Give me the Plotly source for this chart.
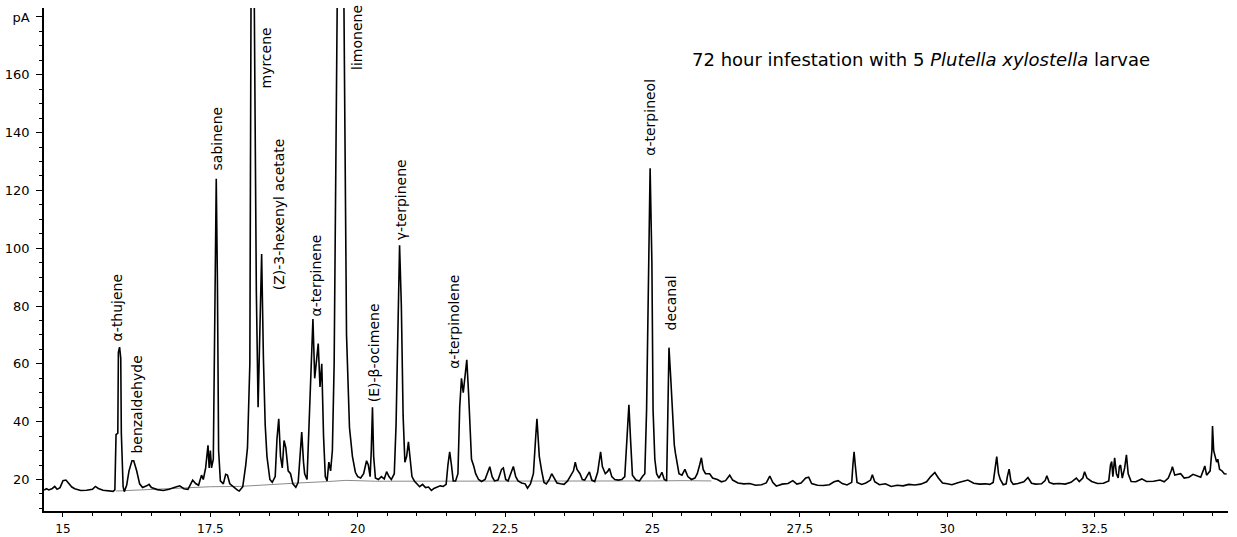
import plotly.graph_objects as go

# Retention time (min) and detector signal (pA) of the FID trace
time_min = [
    14.68, 14.72, 14.76, 14.82, 14.86, 14.90, 14.95, 15.00, 15.05, 15.10, 15.15, 15.20, 15.30, 15.40,
    15.50, 15.55, 15.60, 15.68, 15.76, 15.85, 15.88,
    15.90, 15.93, 15.94, 15.96, 15.98, 15.99, 16.02, 16.04, 16.08,
    16.12, 16.17, 16.20, 16.25, 16.30, 16.35, 16.42, 16.46, 16.50, 16.60, 16.70, 16.80, 16.90, 16.98,
    17.05, 17.12, 17.20, 17.25, 17.30, 17.35, 17.38, 17.42, 17.46, 17.48, 17.50, 17.52,
    17.55, 17.58, 17.60, 17.62, 17.64, 17.67, 17.72, 17.76, 17.79, 17.83, 17.90, 17.96, 17.99, 18.05,
    18.10, 18.13,
    18.17, 18.20, 18.24, 18.28, 18.31,
    18.34, 18.37, 18.40, 18.43, 18.46, 18.51, 18.55, 18.60, 18.63, 18.66, 18.69, 18.72, 18.75, 18.78,
    18.82, 18.86, 18.90, 18.95, 18.99, 19.02, 19.05, 19.08, 19.10, 19.14,
    19.18, 19.21, 19.24, 19.27, 19.30, 19.33, 19.36, 19.39, 19.42, 19.45, 19.48, 19.51, 19.54, 19.57,
    19.60, 19.66, 19.70, 19.76, 19.81, 19.86, 19.91, 19.96, 20.00, 20.05, 20.10, 20.15, 20.18, 20.21,
    20.23, 20.25, 20.27, 20.30, 20.35, 20.40, 20.45, 20.49, 20.53, 20.57, 20.62,
    20.65, 20.68, 20.71, 20.74, 20.77, 20.80, 20.83, 20.86, 20.89, 20.92, 20.96, 21.00, 21.05, 21.10,
    21.15, 21.20, 21.25, 21.30, 21.35, 21.40, 21.45, 21.50, 21.53, 21.56, 21.59, 21.62, 21.66, 21.70,
    21.73, 21.76, 21.79, 21.82, 21.85, 21.88, 21.90, 21.93, 21.97, 22.00, 22.05, 22.10, 22.16, 22.21,
    22.24, 22.28, 22.32, 22.38, 22.44, 22.47, 22.51, 22.55, 22.60, 22.64, 22.68, 22.72, 22.78, 22.84,
    22.88, 22.93, 22.98,
    23.00, 23.02, 23.04, 23.06, 23.08, 23.12, 23.16, 23.20, 23.25, 23.29, 23.33, 23.38, 23.44, 23.50,
    23.56, 23.62, 23.66, 23.69, 23.72, 23.77, 23.81, 23.85, 23.90, 23.93, 23.97, 24.02, 24.07, 24.10,
    24.12, 24.15, 24.20, 24.24, 24.27, 24.31, 24.36, 24.42, 24.48, 24.53,
    24.56, 24.60, 24.63, 24.66, 24.72, 24.78, 24.83, 24.87,
    24.90, 24.93, 24.96, 24.99, 25.01, 25.04, 25.07, 25.11, 25.16, 25.20,
    25.24, 25.26, 25.28, 25.31, 25.34, 25.37, 25.39, 25.42, 25.45, 25.50, 25.55, 25.60, 25.66, 25.72,
    25.76, 25.80, 25.83, 25.86, 25.90, 25.97, 26.02, 26.10, 26.17, 26.24, 26.31, 26.36, 26.45, 26.55,
    26.65, 26.75, 26.85, 26.93, 26.99, 27.04, 27.10, 27.20, 27.30, 27.38, 27.45, 27.52, 27.60, 27.65,
    27.70, 27.80, 27.90, 28.00, 28.08, 28.15, 28.22, 28.30,
    28.38, 28.40, 28.42, 28.44, 28.47, 28.55, 28.62, 28.70, 28.73, 28.77, 28.85, 28.95, 29.05, 29.15,
    29.25, 29.35, 29.45, 29.55, 29.65, 29.72, 29.79, 29.85, 29.92, 30.00, 30.08, 30.18, 30.28, 30.35,
    30.45, 30.55, 30.65, 30.72, 30.78,
    30.81, 30.84, 30.87, 30.90, 30.95, 31.00, 31.02, 31.05, 31.08, 31.12, 31.20, 31.30, 31.37, 31.43,
    31.50, 31.60, 31.66, 31.69, 31.73, 31.80, 31.90, 32.00, 32.10, 32.19, 32.24, 32.30, 32.33, 32.37,
    32.45, 32.55, 32.65, 32.74, 32.77, 32.79, 32.81, 32.84, 32.87, 32.90, 32.92, 32.94, 32.97, 33.01,
    33.04, 33.07, 33.12, 33.20, 33.30, 33.38, 33.50, 33.61, 33.68, 33.75, 33.80, 33.82, 33.86, 33.92,
    33.96, 34.02, 34.10, 34.17, 34.24, 34.30, 34.35, 34.37, 34.40, 34.46, 34.49, 34.50, 34.52, 34.54,
    34.57, 34.59, 34.62, 34.66, 34.70, 34.74,
]
signal_pa = [
    16.3, 16.8, 16.4, 16.9, 17.6, 16.6, 17.2, 19.6, 19.8, 18.7, 17.4, 16.8, 16.2, 16.3,
    16.6, 17.6, 16.9, 16.3, 16.1, 15.9, 16.4,
    35.5, 36.0, 64.0, 65.8, 62.0, 36.0, 17.5, 15.8, 18.0,
    23.0, 26.5, 26.5, 23.0, 18.5, 17.2, 17.8, 18.3, 17.2, 16.5, 16.2, 16.6, 17.3, 17.8,
    16.8, 16.6, 19.8, 18.6, 18.0, 21.5, 20.0, 24.0, 31.8, 24.0, 30.0, 24.0,
    27.0, 90.0, 124.0, 88.0, 30.0, 19.5, 18.5, 21.8, 21.5, 18.5, 17.2, 16.3, 16.0, 17.5,
    25.0, 31.0,
    60.0, 250.0, 200.0, 85.0, 45.0,
    70.0, 98.0, 62.0, 39.0, 28.0, 20.0, 19.0, 21.0, 34.0, 41.0, 28.0, 24.0, 33.5, 31.0,
    23.0, 22.0, 18.5, 17.3, 19.0, 30.0, 36.4, 26.0, 22.0, 20.0,
    40.0, 60.0, 75.5, 55.0, 62.0, 67.0, 52.0, 60.0, 35.0, 21.0, 19.5, 26.0, 23.0, 30.0,
    60.0, 200.0, 300.0, 200.0, 70.0, 38.0, 28.0, 22.5, 21.0, 20.5, 22.0, 26.5, 25.0, 21.0,
    30.0, 45.0, 28.0, 20.5, 20.0, 21.0, 20.2, 22.7, 21.0, 20.0, 22.0,
    38.8, 75.0, 101.0, 80.0, 42.0, 26.0, 28.0, 33.0, 26.0, 21.0, 19.5, 18.5, 17.5, 18.3,
    17.2, 17.4, 16.2, 17.0, 17.5, 17.8, 17.6, 18.3, 25.0, 29.6, 25.0, 19.5, 19.5, 22.0,
    45.0, 55.0, 50.0, 57.0, 61.4, 50.0, 40.6, 27.0, 24.5, 22.0, 20.0, 19.3, 20.0, 22.5,
    24.4, 21.0, 19.5, 19.8, 23.5, 24.0, 20.0, 19.5, 22.5, 24.5, 21.0, 19.5, 18.8, 18.5,
    17.0, 18.5, 22.0,
    31.0, 35.0, 41.0, 33.0, 28.0, 23.0, 19.0, 18.5, 20.0, 22.0, 20.5, 18.8, 18.5, 18.3,
    19.5, 21.5, 23.0, 26.0, 23.5, 22.0, 20.0, 19.8, 21.5, 22.6, 19.8, 19.3, 22.5, 28.0,
    29.6, 24.5, 22.0, 22.8, 23.8, 21.0, 20.0, 19.8, 20.0, 21.0,
    30.0, 45.8, 33.0, 21.5, 19.8, 19.5, 21.0, 22.0,
    44.0, 90.0, 127.7, 95.0, 44.0, 27.0, 22.0, 20.5, 22.5, 20.0,
    19.5, 42.0, 65.6, 55.0, 42.0, 32.0, 29.0, 25.0, 22.0, 21.5, 23.5, 21.0, 20.0, 20.5,
    22.0, 25.0, 27.5, 23.5, 22.0, 22.0, 20.5, 20.0, 19.2, 19.6, 21.5, 19.8, 18.8, 18.5,
    18.6, 18.0, 18.2, 18.8, 21.2, 19.0, 17.7, 18.4, 18.6, 19.6, 18.4, 18.8, 20.5, 20.8,
    18.6, 18.0, 17.9, 18.2, 19.2, 19.6, 18.6, 18.1,
    19.0, 25.0, 29.6, 25.0, 19.0, 18.3, 18.8, 19.8, 21.6, 19.2, 18.2, 18.5, 17.6, 18.0,
    17.8, 18.3, 18.1, 18.4, 19.2, 21.0, 22.4, 20.5, 18.8, 18.5, 18.2, 18.9, 19.5, 19.8,
    18.7, 18.4, 18.5, 18.3, 19.0,
    23.0, 27.9, 22.0, 20.0, 18.2, 18.5, 21.0, 23.6, 19.5, 18.3, 18.6, 19.2, 20.7, 18.7,
    18.4, 18.5, 19.6, 21.3, 19.0, 18.5, 18.6, 18.4, 19.0, 20.5, 19.3, 20.5, 22.7, 20.5,
    19.3, 18.6, 18.7, 19.5, 25.0, 26.2, 21.0, 27.5, 22.0, 20.5, 24.5, 25.0, 20.5, 24.0,
    28.5, 22.0, 19.3, 19.2, 20.2, 19.3, 19.4, 19.8, 19.2, 20.5, 23.0, 24.4, 21.5, 21.8,
    22.0, 20.5, 20.8, 21.8, 21.2, 20.8, 23.5, 24.7, 21.5, 23.0, 30.0, 38.5, 30.0, 28.5,
    26.0, 27.0, 23.5, 23.0, 22.0, 21.9,
]

# Integration baseline drawn under the resolved peaks
baseline_time = [15.90, 16.50, 17.00, 17.50, 18.00, 18.50, 19.00, 19.50, 19.80, 20.30, 21.00,
                 21.60, 22.50, 23.00, 24.00, 25.00, 25.50, 26.00]
baseline_pa = [16.0, 16.6, 17.1, 17.5, 17.6, 18.3, 18.8, 19.3, 19.7, 19.4, 19.4,
               19.4, 19.3, 19.3, 19.4, 19.5, 19.6, 19.5]

# Compound labels: name, label centre (min), label foot (pA)
peak_names = ["α-thujene", "benzaldehyde", "sabinene", "myrcene", "(Z)-3-hexenyl acetate",
              "α-terpinene", "limonene", "(E)-β-ocimene", "γ-terpinene", "α-terpinolene",
              "α-terpineol", "decanal"]
label_time = [15.92, 16.26, 17.61, 18.44, 18.66, 19.29, 19.99, 20.29, 20.73, 21.62, 24.96, 25.31]
label_pa = [67.5, 28.7, 126.5, 155.0, 85.0, 76.0, 161.2, 46.5, 102.5, 58.0, 131.5, 71.3]

x_ticks = [15, 17.5, 20, 22.5, 25, 27.5, 30, 32.5]
x_tick_text = ["15", "17.5", "20", "22.5", "25", "27.5", "30", "32.5"]
y_ticks = [20, 40, 60, 80, 100, 120, 140, 160, 180]
y_tick_text = ["20", "40", "60", "80", "100", "120", "140", "160", "pA"]

FONT = "DejaVu Sans, Liberation Sans, Arial, sans-serif"

fig = go.Figure()
fig.add_trace(go.Scatter(x=baseline_time, y=baseline_pa, mode="lines",
                         line=dict(color="#8a8a8a", width=1), hoverinfo="skip"))
fig.add_trace(go.Scatter(x=time_min, y=signal_pa, mode="lines",
                         line=dict(color="black", width=1.6)))

for name, lt, lp in zip(peak_names, label_time, label_pa):
    fig.add_annotation(x=lt, y=lp, text=name, textangle=-90, showarrow=False,
                       xanchor="center", yanchor="bottom", borderpad=0,
                       font=dict(family=FONT, size=14, color="black"))

fig.add_annotation(x=25.64, y=165.2, xanchor="left", yanchor="middle", showarrow=False,
                   text="72 hour infestation with 5 <i>Plutella xylostella</i> larvae",
                   font=dict(family=FONT, size=18, color="black"))

fig.update_layout(
    width=1237, height=537,
    margin=dict(l=44, r=9, t=8, b=26),
    paper_bgcolor="white", plot_bgcolor="white",
    showlegend=False,
    font=dict(family=FONT, size=12, color="black"),
    xaxis=dict(range=[14.678, 34.763], tickmode="array", tickvals=x_ticks, ticktext=x_tick_text,
               automargin=False,
               showline=True, linecolor="black", linewidth=1.5, mirror=False,
               ticks="outside", ticklen=4, tickwidth=1.2, tickcolor="black",
               ticklabelstandoff=2,
               showgrid=False, zeroline=False,
               minor=dict(tick0=15, dtick=0.5, ticks="outside", ticklen=3, tickcolor="black",
                          showgrid=False),
               tickfont=dict(family=FONT, size=12)),
    yaxis=dict(range=[9.1, 183.1], tickmode="array", tickvals=y_ticks, ticktext=y_tick_text,
               automargin=False,
               showline=True, linecolor="black", linewidth=1.5,
               ticks="outside", ticklen=6, tickwidth=1.2, tickcolor="black",
               ticklabelstandoff=4,
               showgrid=False, zeroline=False,
               minor=dict(tick0=0, dtick=5, ticks="outside", ticklen=3, tickcolor="black",
                          showgrid=False),
               tickfont=dict(family=FONT, size=13)),
)

fig.write_html("out.html")
